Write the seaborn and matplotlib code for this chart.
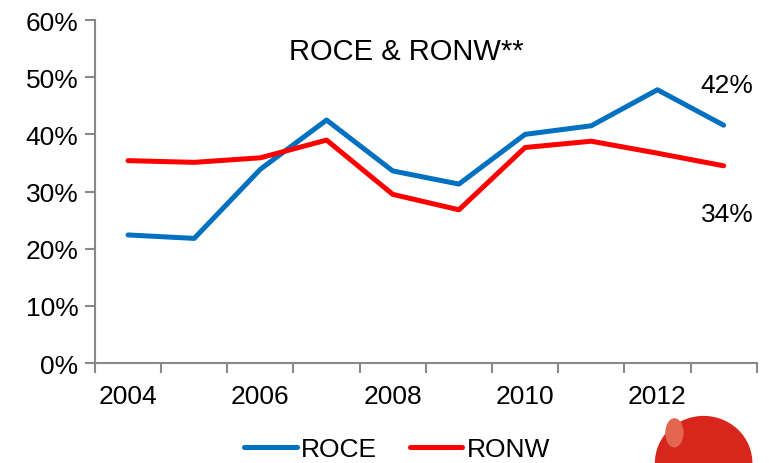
import seaborn as sns
import numpy as np
import pandas as pd
import matplotlib.pyplot as plt
from matplotlib.patches import Ellipse

years = [2004, 2005, 2006, 2007, 2008, 2009, 2010, 2011, 2012, 2013]
roce = [22.4, 21.8, 33.9, 42.5, 33.6, 31.3, 40.0, 41.5, 47.8, 41.6]
ronw = [35.4, 35.1, 35.9, 39.0, 29.5, 26.8, 37.7, 38.8, 36.7, 34.5]
tick_years = [2004, 2006, 2008, 2010, 2012]

df = pd.DataFrame({'year': years * 2,
                   'value': roce + ronw,
                   'series': ['ROCE'] * len(years) + ['RONW'] * len(years)})

sns.set_style('white')
plt.rcParams['font.family'] = ['Liberation Sans', 'DejaVu Sans']
plt.rcParams['text.color'] = 'black'
plt.rcParams['xtick.color'] = 'black'
plt.rcParams['ytick.color'] = 'black'

fig = plt.figure(figsize=(7.69, 4.64), dpi=100)
ax = fig.add_axes([0.1235, 0.2155, 0.8605, 0.7392])

palette = {'ROCE': '#0070C0', 'RONW': '#FF0000'}
sns.lineplot(data=df, x='year', y='value', hue='series', palette=palette,
             linewidth=3.6, ax=ax)

fs = 19
ax.set_xlim(2003.5, 2013.5)
ax.set_ylim(0, 60)
ax.set_yticks(range(0, 61, 10))
ax.set_yticklabels([f'{v}%' for v in range(0, 61, 10)], fontsize=fs)
ax.set_xticks(tick_years)
ax.set_xticklabels([str(y) for y in tick_years], fontsize=fs)
ax.set_xticks(np.arange(2003.5, 2014, 1), minor=True)
ax.tick_params(axis='x', which='major', bottom=True, length=0, pad=15)
ax.tick_params(axis='x', which='minor', bottom=True, length=7, width=1.5,
               color='#898989', direction='out')
ax.tick_params(axis='y', left=True, length=7, width=1.5, color='#898989',
               labelcolor='black', direction='out', pad=5)
ax.set_xlabel('')
ax.set_ylabel('')

for s in ['top', 'right']:
    ax.spines[s].set_visible(False)
for s in ['left', 'bottom']:
    ax.spines[s].set_color('#898989')
    ax.spines[s].set_linewidth(1.5)

ax.text(2008.2, 54.6, 'ROCE & RONW**', fontsize=21, ha='center', va='center')
ax.text(2013.05, 48.6, '42%', fontsize=fs, ha='center', va='center')
ax.text(2013.05, 26.0, '34%', fontsize=fs, ha='center', va='center')

ax.legend_.remove()
handles, labels = ax.get_legend_handles_labels()
fig.legend(handles, labels, loc='center', bbox_to_anchor=(0.516, 0.03), ncol=2,
           frameon=False, fontsize=fs, handlelength=2.0, handletextpad=0.15,
           columnspacing=1.25)

# logo mark in the corner
fig.patches.append(Ellipse((0.915, 0.0), 0.125, 0.2, transform=fig.transFigure,
                           color='#D9261C', zorder=0))
fig.patches.append(Ellipse((0.877, 0.065), 0.022, 0.06, transform=fig.transFigure,
                           color='#E4664F', zorder=1))

fig.savefig('out.png', dpi=100)
